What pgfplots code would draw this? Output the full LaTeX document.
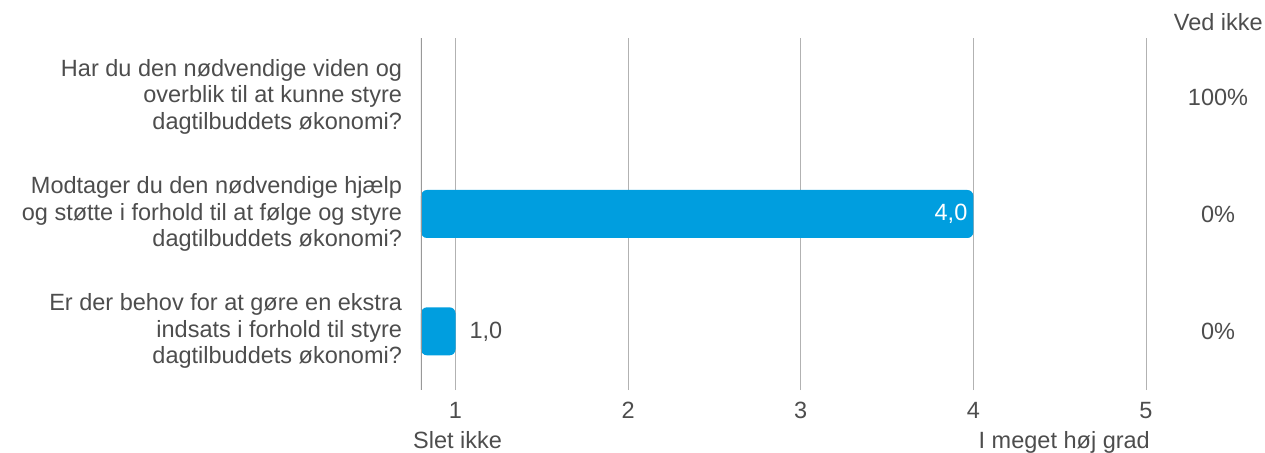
\documentclass[border=0pt]{standalone}
\usepackage{pgfplots}
\pgfplotsset{compat=1.18}
\usepackage{fontspec}
\setmainfont{Liberation Sans}
\definecolor{barblue}{RGB}{0,158,223}
\definecolor{txtgray}{RGB}{77,77,77}
\definecolor{gridgray}{RGB}{178,178,178}
\newcommand{\lblfont}{\fontsize{23.5pt}{26.5pt}\selectfont}
\begin{document}
\lblfont
\begin{tikzpicture}
\begin{axis}[
  scale only axis,
  width=725pt, height=352pt,
  xmin=0.8, xmax=5,
  ymin=-0.5, ymax=2.5,
  xbar, bar width=48pt, bar shift=0pt,
  axis line style={draw=none},
  xmajorgrids, grid style={gridgray, line width=1pt},
  xtick={1,2,3,4,5},
  major tick length=0pt,
  ytick={0,1,2},
  yticklabels={{Er der behov for at gøre en ekstra\\indsats i forhold til styre\\dagtilbuddets økonomi?},
               {Modtager du den nødvendige hjælp\\og støtte i forhold til at følge og styre\\dagtilbuddets økonomi?},
               {Har du den nødvendige viden og\\overblik til at kunne styre\\dagtilbuddets økonomi?}},
  yticklabel style={align=right, text=txtgray, font=\lblfont, xshift=-11pt},
  xticklabel style={text=txtgray, font=\lblfont, yshift=-4pt},
  /pgf/number format/assume math mode=true,
  /pgf/number format/.cd, use comma, fixed, fixed zerofill, precision=1,
  /pgfplots/.cd,
  x tick label style={/pgf/number format/precision=0, /pgf/number format/fixed zerofill=false},
  clip=true,
]
\addplot[draw=none, fill=barblue, rounded corners=6pt,
  nodes near coords, nodes near coords style={anchor=east, text=white, xshift=2pt, font=\lblfont}]
  coordinates {(4.0,1)};
\addplot[draw=none, fill=barblue, rounded corners=6pt,
  nodes near coords, nodes near coords style={anchor=west, text=txtgray, xshift=6pt, font=\lblfont}]
  coordinates {(1.0,0)};
\draw[gray!80, line width=2pt] (rel axis cs:0,0) -- (rel axis cs:0,1);
\coordinate (bl) at (rel axis cs:0,0);
\coordinate (tr) at (rel axis cs:1,1);
\end{axis}
\begin{scope}[every node/.style={text=txtgray, font=\lblfont, inner sep=0pt}]
\node[anchor=base east] at ([xshift=117pt, yshift=7pt]tr) {Ved ikke};
\node at ([xshift=72pt, yshift=-59pt]tr) {100\%};
\node at ([xshift=72pt, yshift=-176pt]tr) {0\%};
\node at ([xshift=72pt, yshift=-293pt]tr) {0\%};
\node[anchor=base west] at ([xshift=-8pt, yshift=-58pt]bl) {Slet ikke};
\node[anchor=base east] at ([xshift=4pt, yshift=-58pt]tr |- bl) {I meget høj grad};
\end{scope}
\pgfresetboundingbox
\path ([xshift=-421pt, yshift=-62pt]bl) rectangle ([xshift=119pt, yshift=38pt]tr);
\end{tikzpicture}
\end{document}
